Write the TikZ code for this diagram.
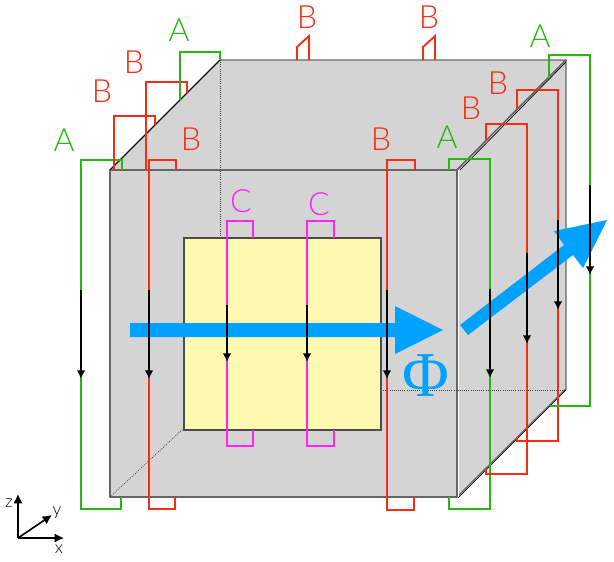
\documentclass[tikz,border=0pt]{standalone}
\usepackage{fontspec}
\usetikzlibrary{arrows.meta}
\setmainfont{Lato Light}
\newfontfamily\phifont{Liberation Serif}
\definecolor{coilA}{HTML}{26B80F}
\definecolor{coilB}{HTML}{F72C12}
\definecolor{coilC}{HTML}{FF24EE}
\definecolor{flux}{HTML}{00A2FF}
\definecolor{core}{HTML}{D4D4D4}
\definecolor{window}{HTML}{FFF8B0}
\definecolor{edge}{HTML}{666666}
\tikzset{
	face/.style={fill=core,draw=edge,line width=1.1pt,line join=round},
	hidden/.style={densely dotted,line width=.6pt,black!75},
	wireA/.style={draw=coilA,line width=1.4pt},
	wireB/.style={draw=coilB,line width=1.4pt},
	wireC/.style={draw=coilC,line width=1.4pt},
	current/.style={-{Latex[length=6.5pt,width=6.5pt]},line width=1.4pt,black},
	axis/.style={-{Latex[length=7pt,width=7pt]},line width=1.2pt,black},
	tagA/.style={text=coilA,font=\fontsize{24}{24}\selectfont},
	tagB/.style={text=coilB,font=\fontsize{24}{24}\selectfont},
	tagC/.style={text=coilC,font=\fontsize{24}{24}\selectfont},
	tagaxis/.style={font=\fontsize{13}{13}\selectfont,inner sep=0pt}
}
\begin{document}
\begin{tikzpicture}[x=.75pt,y=-.75pt]
	\useasboundingbox(0,0)rectangle(614,561);
	\path[save path=\faceTop](110,170)--(220,60)--(566,60)--(457,170)--cycle;
	\path[save path=\faceSide](457,170)--(566,60)--(566,389)--(457,497)--cycle;
	\path[save path=\faceFront](110,170)rectangle(457,497);
	\draw[face][use path=\faceTop];
	\draw[face][use path=\faceSide];
	\draw[face][use path=\faceFront];
	\draw[white,line width=.5pt](458.5,170)--(458.5,497);
	\draw[black,line width=.5pt](110,170)--(220,60);
	\draw[black,line width=.5pt](460,170)--(566,62);
	\draw[black,line width=.5pt](458,498)--(566,390);
	\draw[hidden](220,60)--(220,238);
	\draw[hidden](110,497)--(184,428);
	\draw[hidden](381,390)--(566,390);
	\draw[fill=window,draw=black!70,line width=.9pt](184,238)rectangle(381,430);
	\draw[wireA](122,170)--(122,160)--(81,160)--(81,509)--(121,509)--(121,497);
	\draw[wireB](176,170)--(176,160)--(149,160)--(149,509)--(175,509)--(175,497);
	\draw[wireB](155,125)--(155,116)--(114,116)--(114,170);
	\draw[wireB](187,93)--(187,82)--(146,82)--(146,170);
	\draw[wireA](220,60)--(220,52)--(180,52)--(180,100);
	\draw[wireB](297,60)--(297,47)--(309,36)--(309,60);
	\draw[wireB](423,60)--(423,47)--(435,36)--(435,60);
	\draw[wireB](415,170)--(415,160)--(387,160)--(387,510)--(414,510)--(414,497);
	\draw[wireA](449,170)--(449,159)--(490,159)--(490,509)--(449,509)--(449,497);
	\draw[wireB](486,141)--(486,124)--(527,124)--(527,474)--(486,474)--(486,468);
	\draw[wireB](517,109)--(517,90)--(558,90)--(558,441)--(517,441)--(517,437);
	\draw[wireA](549,78)--(549,55)--(590,55)--(590,406)--(550,406);
	\draw[wireC](253,238)--(253,221)--(227,221)--(227,446)--(253,446)--(253,430);
	\draw[wireC](334,238)--(334,221)--(307,221)--(307,446)--(334,446)--(334,430);
	\fill[flux](130,323)--(395,323)--(395,306)--(443,330)--(395,354)--(395,337)--(130,337)--cycle;
	\fill[flux](460,325)--(564,245)--(554,231)--(607,220)--(583,268)--(573,255)--(468,335)--cycle;
	\foreach \xpos/\ystart/\yend in {81/290/379,149/290/379,227/305/362,307/305/362,387/290/379,490/289/378,527/253/344,558/220/310,590/185/275}
		\draw[current](\xpos,\ystart)--(\xpos,\yend);
	\node[text=flux,font=\phifont\fontsize{48}{48}\selectfont](phi)at(426,376){Φ};
	\node[tagA](a1)at(64,140){A};
	\node[tagB](b1)at(102,91){B};
	\node[tagB](b2)at(134,62){B};
	\node[tagA](a2)at(179,30){A};
	\node[tagB](b3)at(191,139){B};
	\node[tagB](b4)at(307,17){B};
	\node[tagB](b5)at(429,17){B};
	\node[tagB](b6)at(381,139){B};
	\node[tagA](a3)at(447,137){A};
	\node[tagB](b7)at(471,108){B};
	\node[tagB](b8)at(498,83){B};
	\node[tagA](a4)at(540,36){A};
	\node[tagC](c1)at(241,201){C};
	\node[tagC](c2)at(319,204){C};
	\coordinate(origin)at(18,538);
	\draw[axis](origin)--(18,494);
	\draw[axis](origin)--(64,538);
	\draw[axis](origin)--(52,515);
	\node[tagaxis](zlabel)at(9,503){z};
	\node[tagaxis](xlabel)at(59,549){x};
	\node[tagaxis](ylabel)at(57,513){y};
\end{tikzpicture}
\end{document}
